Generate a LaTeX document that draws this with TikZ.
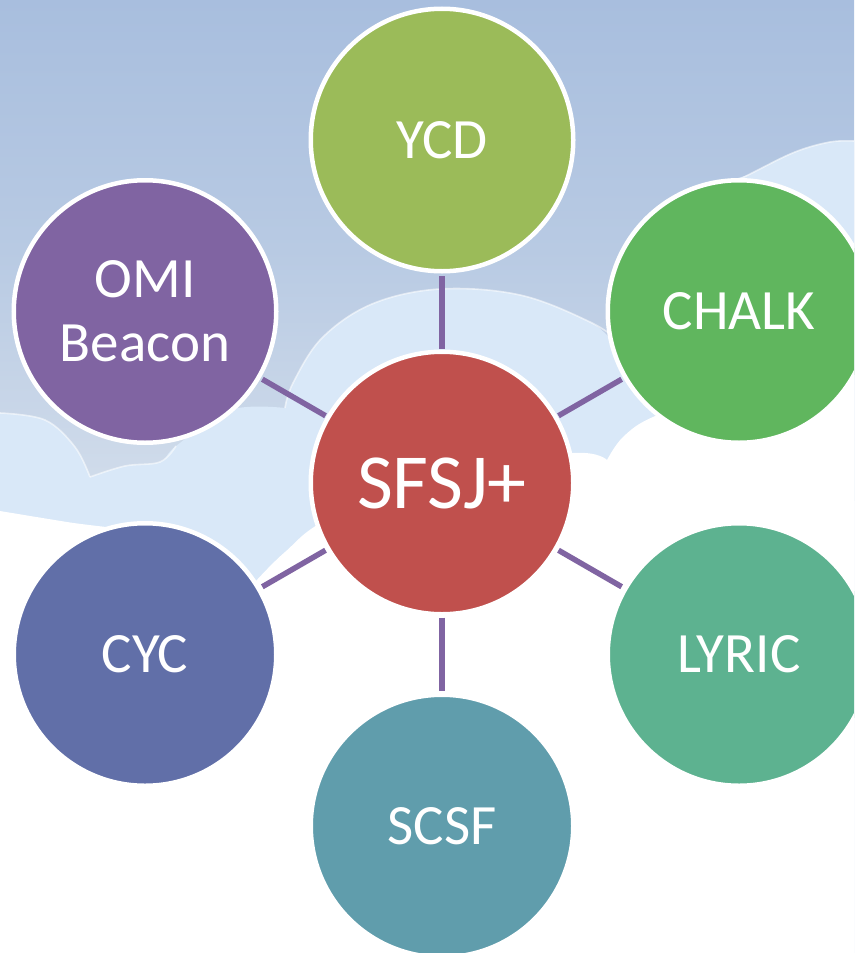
\documentclass[tikz,border=0pt]{standalone}
\usepackage{fontspec}
\setmainfont{Carlito}
\definecolor{skytop}{HTML}{A8BEDE}
\definecolor{skymid}{HTML}{B8CAE3}
\definecolor{skybot}{HTML}{D2DDEB}
\definecolor{cloudblue}{HTML}{D9E8F8}
\definecolor{cYCD}{HTML}{9BBB59}
\definecolor{cCHALK}{HTML}{60B65E}
\definecolor{cOMI}{HTML}{8064A2}
\definecolor{cSFSJ}{HTML}{C0504D}
\definecolor{cCYC}{HTML}{616FA8}
\definecolor{cLYRIC}{HTML}{5DB290}
\definecolor{cSCSF}{HTML}{609DAC}
\definecolor{linkc}{HTML}{8064A2}
\tikzset{
  bubble/.style={circle, draw=white, line width=4.5pt, minimum size=262.5pt,
    inner sep=0pt, text=white, align=center, font=\fontsize{57}{64}\selectfont},
  hub/.style={bubble, font=\fontsize{78}{80}\selectfont},
  link/.style={draw=linkc, line width=5.5pt},
  cloudedge/.style={draw=white, draw opacity=0.55, line width=1.6pt}
}
\begin{document}
\begin{tikzpicture}[x=1pt,y=1pt]
\useasboundingbox (0,0) rectangle (854,-953);
\begin{scope}
\clip (0,0) rectangle (854,-953);
% sky
\shade[top color=skytop, bottom color=skybot, middle color=skymid] (0,0) rectangle (854,-500);
\fill[skybot] (0,-499) rectangle (854,-953);
% light blue clouds
\fill[cloudblue]
  plot[smooth, tension=0.6] coordinates {(0,-413) (45,-420) (75,-447) (90,-477)}
  -- plot[smooth, tension=0.6] coordinates {(90,-477) (125,-466) (160,-462) (176,-446) (230,-410) (285,-408)}
  -- plot[smooth, tension=0.6] coordinates {(285,-408) (293,-383) (322,-338) (372,-304) (440,-289) (520,-295) (590,-322) (625,-345) (660,-300)}
  -- plot[smooth, tension=0.6] coordinates {(660,-300) (700,-200) (752,-173) (795,-152) (830,-142) (854,-141)}
  -- (854,-953) -- (0,-953) -- cycle;
\draw[cloudedge] plot[smooth, tension=0.6] coordinates {(0,-413) (45,-420) (75,-447) (90,-477)};
\draw[cloudedge] plot[smooth, tension=0.6] coordinates {(90,-477) (125,-466) (160,-462) (176,-446)};
\draw[cloudedge] plot[smooth, tension=0.6] coordinates {(285,-408) (293,-383) (322,-338) (372,-304) (440,-289) (520,-295) (590,-322) (625,-345)};
\draw[cloudedge] plot[smooth, tension=0.6] coordinates {(700,-200) (752,-173) (795,-152) (830,-142) (854,-141)};
% white cloud
\fill[white]
  plot[smooth, tension=0.6] coordinates {(0,-511) (67,-522) (180,-540) (255,-582)}
  -- plot[smooth, tension=0.6] coordinates {(255,-582) (285,-552) (330,-518) (450,-470) (573,-453) (607,-460)}
  -- plot[smooth, tension=0.6] coordinates {(607,-460) (623,-437) (653,-417) (720,-395) (854,-380)}
  -- (854,-953) -- (0,-953) -- cycle;
% nodes
\node[hub, fill=cSFSJ] (sfsj) at (442,-483) {SFSJ+};
\node[bubble, fill=cYCD] (ycd) at (442,-140) {YCD};
\node[bubble, fill=cOMI] (omi) at (145,-311.5) {OMI\\Beacon};
\node[bubble, fill=cCHALK] (chalk) at (739,-311.5) {CHALK};
\node[bubble, fill=cCYC] (cyc) at (145,-654.5) {CYC};
\node[bubble, fill=cLYRIC] (lyric) at (739,-654.5) {LYRIC};
\node[bubble, fill=cSCSF] (scsf) at (442,-826) {SCSF};
% connectors
\path[link, shorten <=1pt, shorten >=2pt] (sfsj) -- (ycd);
\path[link, shorten <=1pt, shorten >=2pt] (sfsj) -- (omi);
\path[link, shorten <=1pt, shorten >=2pt] (sfsj) -- (chalk);
\path[link, shorten <=1pt, shorten >=2pt] (sfsj) -- (cyc);
\path[link, shorten <=1pt, shorten >=2pt] (sfsj) -- (lyric);
\path[link, shorten <=1pt, shorten >=2pt] (sfsj) -- (scsf);
\end{scope}
\end{tikzpicture}
\end{document}
